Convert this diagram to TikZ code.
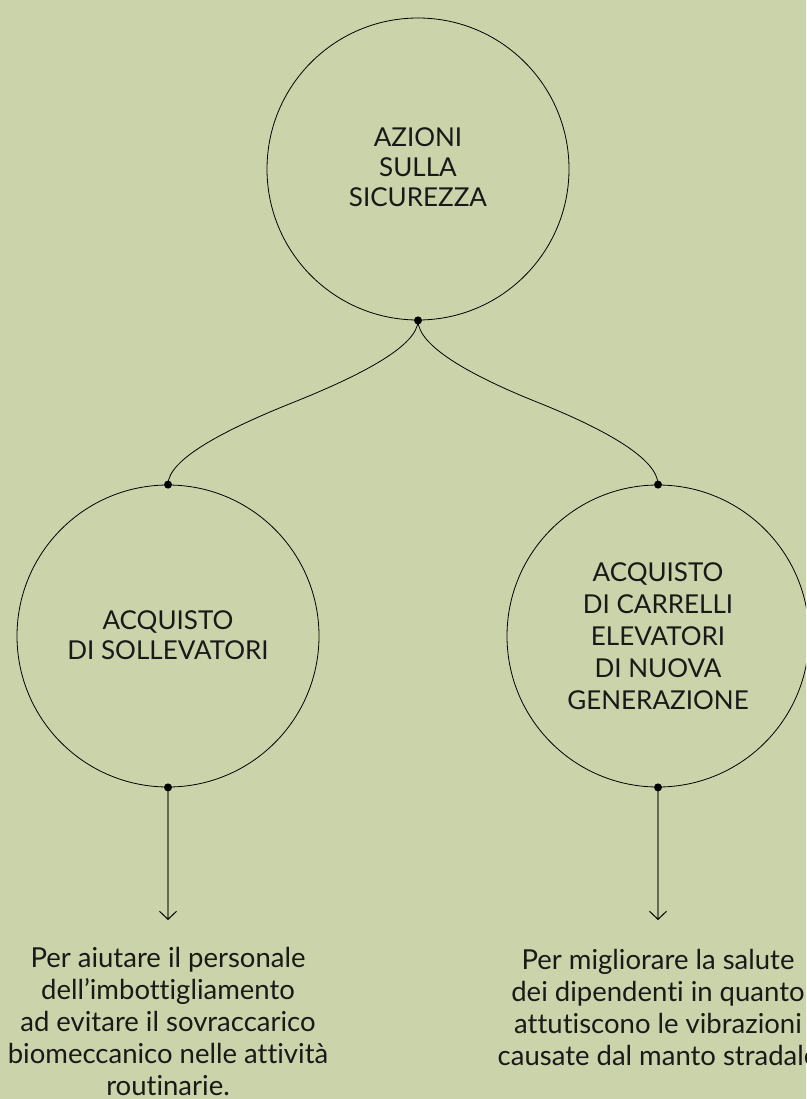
\documentclass[tikz,border=0pt]{standalone}
\usepackage{fontspec}
\setmainfont{Lato}[Ligatures=NoCommon]
\usetikzlibrary{arrows.meta,calc}
\definecolor{bg}{RGB}{203,211,170}
\definecolor{arrowgray}{RGB}{100,104,84}
\begin{document}
\begin{tikzpicture}[x=1pt,y=-1pt,
  circ/.style={circle,draw=black,line width=0.8pt,minimum size=302pt,inner sep=0pt},
  ctext/.style={align=center,font=\fontsize{26}{30}\selectfont,text=black!90},
  btext/.style={align=center,font=\fontsize{27.5}{32}\selectfont,text=black!90},
  dotn/.style={circle,fill=black,inner sep=0pt,minimum size=8pt},
  link/.style={draw=black,line width=0.8pt},
  arr/.style={draw=arrowgray,line width=1.3pt,-{Straight Barb[length=8pt,width=17pt,line width=1pt,color=black]}}]
\path[fill=bg] (0,0) rectangle (806,1099);
\useasboundingbox (0,0) rectangle (806,1099);
\begin{scope}
\clip (0,0) rectangle (806,1099);
\node[circ] (top) at (418,169) {};
\node[circ] (left) at (168,636) {};
\node[circ] (right) at (658,636) {};
\node[ctext] (ttop) at (418,167) {AZIONI\\SULLA\\SICUREZZA};
\node[ctext] (tleft) at (168,635) {ACQUISTO\\DI SOLLEVATORI};
\node[ctext,font=\fontsize{26}{32}\selectfont] (tright) at (658,636) {ACQUISTO\\DI CARRELLI\\ELEVATORI\\DI NUOVA\\GENERAZIONE};
\coordinate (d0) at (top.south);
\coordinate (d1) at (left.north);
\coordinate (d2) at (right.north);
\coordinate (d3) at (left.south);
\coordinate (d4) at (right.south);
% S-curves: two cubic halves meeting at the midpoint
\coordinate (m1) at ($(d0)!0.5!(d1)$);
\coordinate (m2) at ($(d0)!0.5!(d2)$);
\draw[link] (d0) .. controls ($(d0)+(0,25)$) and ($(m1)+(70,-28)$) .. (m1)
  .. controls ($(m1)+(-70,28)$) and ($(d1)+(0,-25)$) .. (d1);
\draw[link] (d0) .. controls ($(d0)+(0,25)$) and ($(m2)+(-70,-28)$) .. (m2)
  .. controls ($(m2)+(70,28)$) and ($(d2)+(0,-25)$) .. (d2);
\coordinate (e1) at (168,920);
\coordinate (e2) at (658,920);
\draw[arr] (d3) -- (e1);
\draw[arr] (d4) -- (e2);
\foreach \d in {d0,d1,d2,d3,d4} \node[dotn] at (\d) {};
\node[btext] (bl) at (168,1021) {Per aiutare il personale\\dell’imbottigliamento\\ad evitare il sovraccarico\\biomeccanico nelle attività\\routinarie.};
\node[btext] (br) at (658,1007) {Per migliorare la salute\\dei dipendenti in quanto\\attutiscono le vibrazioni\\causate dal manto stradale};
\end{scope}
\end{tikzpicture}
\end{document}
